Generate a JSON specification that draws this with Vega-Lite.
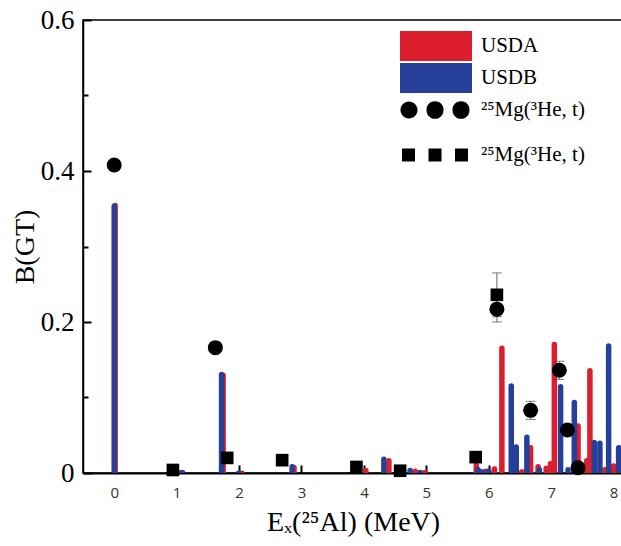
{
  "$schema": "https://vega.github.io/schema/vega-lite/v6.json",
  "width": 540,
  "height": 453,
  "autosize": {"type": "none"},
  "padding": {"left": 83, "top": 20, "right": -2, "bottom": 73},
  "background": "white",
  "config": {
    "view": {"stroke": "black", "strokeWidth": 1.5},
    "axis": {"grid": false}
  },
  "datasets": {
    "bars": [
      {"E": 0.015, "B": 0.358, "model": "USDA"},
      {"E": 1.06, "B": 0.004, "model": "USDA"},
      {"E": 1.745, "B": 0.133, "model": "USDA"},
      {"E": 2.04, "B": 0.003, "model": "USDA"},
      {"E": 2.88, "B": 0.011, "model": "USDA"},
      {"E": 4.03, "B": 0.007, "model": "USDA"},
      {"E": 4.40, "B": 0.020, "model": "USDA"},
      {"E": 4.82, "B": 0.006, "model": "USDA"},
      {"E": 4.98, "B": 0.004, "model": "USDA"},
      {"E": 5.80, "B": 0.014, "model": "USDA"},
      {"E": 5.96, "B": 0.006, "model": "USDA"},
      {"E": 6.09, "B": 0.009, "model": "USDA"},
      {"E": 6.21, "B": 0.169, "model": "USDA"},
      {"E": 6.53, "B": 0.005, "model": "USDA"},
      {"E": 6.67, "B": 0.037, "model": "USDA"},
      {"E": 6.79, "B": 0.012, "model": "USDA"},
      {"E": 6.92, "B": 0.010, "model": "USDA"},
      {"E": 6.99, "B": 0.016, "model": "USDA"},
      {"E": 7.05, "B": 0.174, "model": "USDA"},
      {"E": 7.43, "B": 0.066, "model": "USDA"},
      {"E": 7.57, "B": 0.020, "model": "USDA"},
      {"E": 7.62, "B": 0.139, "model": "USDA"},
      {"E": 7.86, "B": 0.008, "model": "USDA"},
      {"E": 8.00, "B": 0.013, "model": "USDA"},
      {"E": 0.0, "B": 0.357, "model": "USDB"},
      {"E": 1.09, "B": 0.004, "model": "USDB"},
      {"E": 1.72, "B": 0.134, "model": "USDB"},
      {"E": 2.0, "B": 0.003, "model": "USDB"},
      {"E": 2.85, "B": 0.012, "model": "USDB"},
      {"E": 3.90, "B": 0.002, "model": "USDB"},
      {"E": 4.32, "B": 0.022, "model": "USDB"},
      {"E": 4.74, "B": 0.007, "model": "USDB"},
      {"E": 4.90, "B": 0.004, "model": "USDB"},
      {"E": 5.83, "B": 0.008, "model": "USDB"},
      {"E": 5.90, "B": 0.005, "model": "USDB"},
      {"E": 6.00, "B": 0.006, "model": "USDB"},
      {"E": 6.36, "B": 0.119, "model": "USDB"},
      {"E": 6.44, "B": 0.038, "model": "USDB"},
      {"E": 6.61, "B": 0.051, "model": "USDB"},
      {"E": 6.81, "B": 0.008, "model": "USDB"},
      {"E": 7.15, "B": 0.118, "model": "USDB"},
      {"E": 7.27, "B": 0.008, "model": "USDB"},
      {"E": 7.37, "B": 0.097, "model": "USDB"},
      {"E": 7.69, "B": 0.044, "model": "USDB"},
      {"E": 7.78, "B": 0.043, "model": "USDB"},
      {"E": 7.92, "B": 0.172, "model": "USDB"},
      {"E": 8.08, "B": 0.037, "model": "USDB"}
    ],
    "err": [
      {"E": 6.13, "lo": 0.200, "hi": 0.234},
      {"E": 6.13, "lo": 0.207, "hi": 0.265},
      {"E": 6.67, "lo": 0.071, "hi": 0.095},
      {"E": 7.13, "lo": 0.124, "hi": 0.148}
    ],
    "pts": [
      {"E": 0.0, "B": 0.408, "set": "c"},
      {"E": 1.62, "B": 0.166, "set": "c"},
      {"E": 6.13, "B": 0.217, "set": "c"},
      {"E": 6.67, "B": 0.083, "set": "c"},
      {"E": 7.13, "B": 0.136, "set": "c"},
      {"E": 7.26, "B": 0.057, "set": "c"},
      {"E": 7.43, "B": 0.007, "set": "c"},
      {"E": 0.94, "B": 0.004, "set": "s"},
      {"E": 1.81, "B": 0.020, "set": "s"},
      {"E": 2.69, "B": 0.017, "set": "s"},
      {"E": 3.88, "B": 0.008, "set": "s"},
      {"E": 4.58, "B": 0.003, "set": "s"},
      {"E": 5.79, "B": 0.021, "set": "s"},
      {"E": 6.13, "B": 0.236, "set": "s"}
    ]
  },
  "layer": [
    {
      "data": {"name": "bars"},
      "mark": {"type": "bar", "size": 5.5, "orient": "vertical", "cornerRadiusEnd": 2.5},
      "encoding": {
        "x": {
          "field": "E", "type": "quantitative",
          "scale": {"domain": [-0.5, 8.15], "nice": false, "zero": false, "padding": 0},
          "axis": {
            "values": [0, 0.5, 1, 1.5, 2, 2.5, 3, 3.5, 4, 4.5, 5, 5.5, 6, 6.5, 7, 7.5, 8],
            "labelExpr": "datum.value % 1 === 0 ? format(datum.value, 'd') : ''",
            "tickSize": {"condition": {"test": "datum.value % 1 === 0", "value": -8}, "value": -6},
            "tickColor": "black", "tickWidth": 2,
            "domainColor": "black", "domainWidth": 2,
            "labelFont": "Open Sans", "labelFontSize": 15, "labelColor": "#333", "labelPadding": 20,
            "labelFlush": false, "labelOverlap": false,
            "title": "Eₓ(²⁵Al) (MeV)", "titleFont": "Liberation Serif", "titleFontSize": 28,
            "titleFontWeight": "normal", "titleColor": "black", "titlePadding": 8
          }
        },
        "y": {
          "field": "B", "type": "quantitative", "stack": null,
          "scale": {"domain": [0, 0.6], "nice": false, "padding": 0},
          "axis": {
            "values": [0, 0.1, 0.2, 0.3, 0.4, 0.5, 0.6],
            "labelExpr": "datum.value === 0 ? '0' : (round(datum.value * 10) % 2 === 0 ? format(datum.value, '.1f') : '')",
            "tickSize": {"condition": {"test": "round(datum.value * 10) % 2 === 0", "value": -8}, "value": -5},
            "tickColor": "black", "tickWidth": 2,
            "domainColor": "black", "domainWidth": 1.5,
            "labelFont": "Liberation Serif", "labelFontSize": 27, "labelColor": "black", "labelPadding": 17,
            "labelFlush": false, "labelOverlap": false,
            "title": "B(GT)", "titleFont": "Liberation Serif", "titleFontSize": 28,
            "titleFontWeight": "normal", "titleColor": "black", "titlePadding": 1
          }
        },
        "color": {
          "field": "model", "type": "nominal",
          "scale": {"domain": ["USDA", "USDB", "c", "s"], "range": ["#dc1f2e", "#26409a", "black", "black"]},
          "legend": {
            "orient": "none", "legendX": 317, "legendY": 11, "padding": 0,
            "title": null, "symbolSize": 900, "symbolStrokeWidth": 0, "symbolOpacity": 1,
            "rowPadding": 2, "labelOffset": 51,
            "labelFont": "Liberation Serif", "labelFontSize": 21, "labelColor": "black", "labelLimit": 300,
            "labelExpr": "datum.value === 'c' || datum.value === 's' ? '²⁵Mg(³He, t)' : datum.value",
            "encode": {
              "symbols": {
                "update": {
                  "shape": {"signal": "datum.value === 'c' ? 'M-0.967,0A0.567,0.567,0,1,0,0.167,0A0.567,0.567,0,1,0,-0.967,0Z M0.767,0A0.567,0.567,0,1,0,1.9,0A0.567,0.567,0,1,0,0.767,0Z M2.5,0A0.567,0.567,0,1,0,3.633,0A0.567,0.567,0,1,0,2.5,0Z' : (datum.value === 's' ? 'M-0.867,0.767h0.867v0.867h-0.867Z M0.9,0.767h0.867v0.867h-0.867Z M2.667,0.767h0.867v0.867h-0.867Z' : 'M-1,-1H3.8V1H-1Z')"}
                }
              },
              "labels": {
                "update": {
                  "dy": {"signal": "datum.value === 's' ? 18 : 0"},
                  "font": {"value": "Liberation Serif"},
                  "fontSize": {"value": 21}
                }
              }
            }
          }
        }
      }
    },
    {
      "data": {"name": "err"},
      "mark": {"type": "errorbar", "color": "#666", "ticks": {"size": 10, "color": "#444"}},
      "encoding": {
        "x": {"field": "E", "type": "quantitative"},
        "y": {"field": "lo", "type": "quantitative", "title": "B(GT)"},
        "y2": {"field": "hi"}
      }
    },
    {
      "data": {"name": "pts"},
      "transform": [{"filter": "datum.set === 'c'"}],
      "mark": {"type": "circle", "size": 225, "color": "black", "opacity": 1},
      "encoding": {
        "x": {"field": "E", "type": "quantitative"},
        "y": {"field": "B", "type": "quantitative"}
      }
    },
    {
      "data": {"name": "pts"},
      "transform": [{"filter": "datum.set === 's'"}],
      "mark": {"type": "square", "size": 160, "color": "black", "opacity": 1},
      "encoding": {
        "x": {"field": "E", "type": "quantitative"},
        "y": {"field": "B", "type": "quantitative"}
      }
    }
  ]
}
